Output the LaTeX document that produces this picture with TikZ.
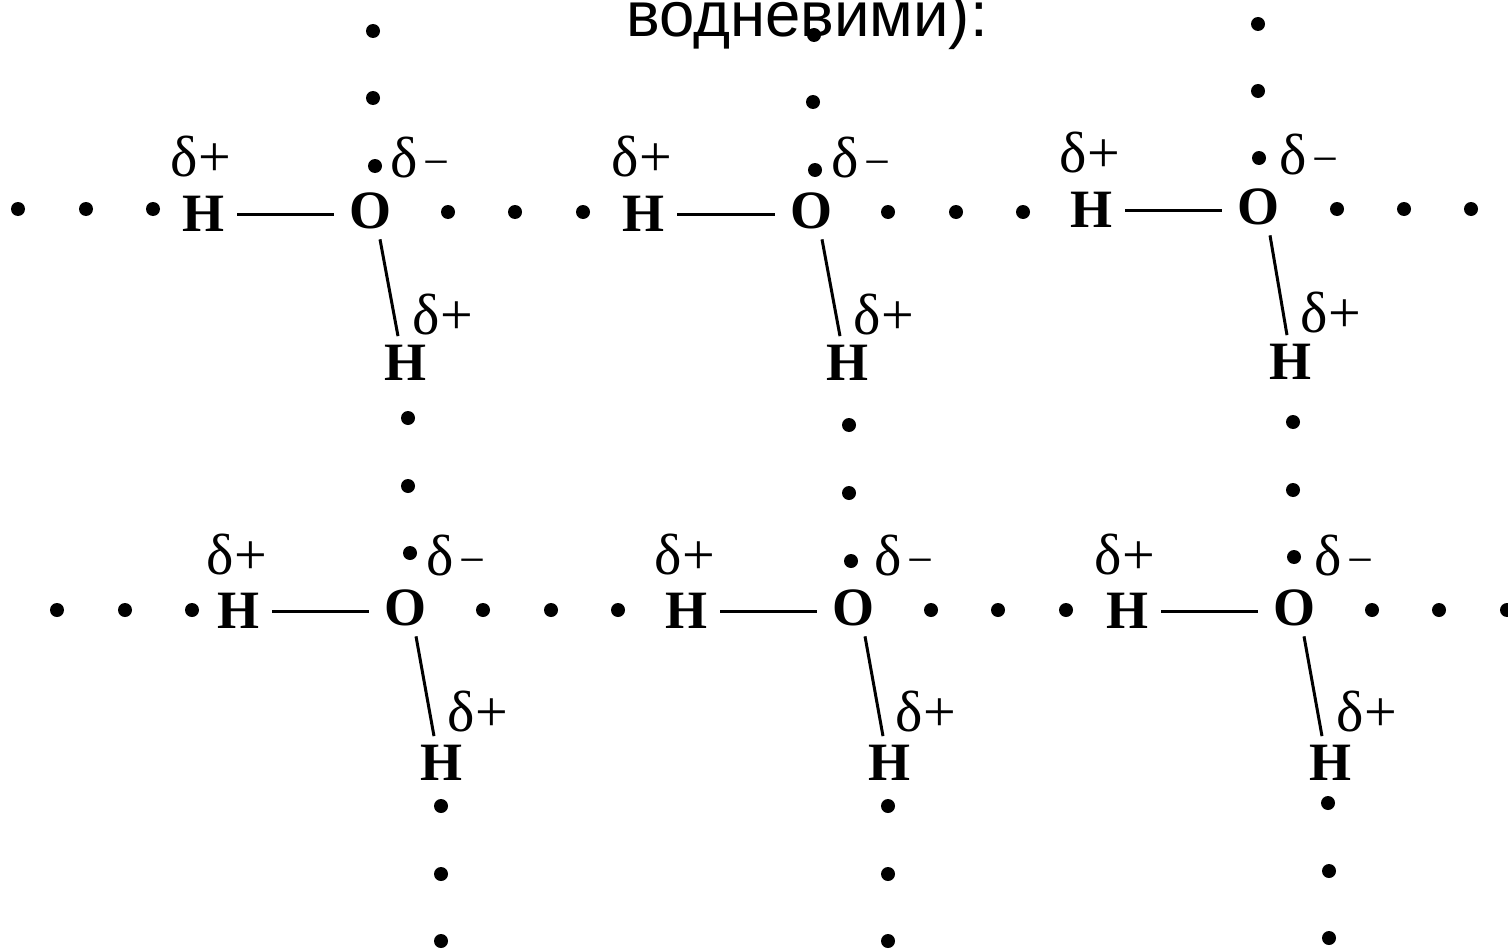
\documentclass[tikz,border=0pt]{standalone}
\usepackage{fontspec}
\setmainfont{Liberation Serif}
\newfontfamily\headfont{Liberation Sans}
\newcommand{\dplus}{δ\kern1pt+}
\newcommand{\dminus}{δ\kern5pt{\fontsize{46}{46}\selectfont −}}
\tikzset{
	atom/.style={inner sep=0pt,font=\fontsize{54}{54}\selectfont\bfseries},
	charge/.style={inner sep=0pt,font=\fontsize{58}{58}\selectfont},
	bond/.style={line width=3pt},
	hdot/.style={circle,fill=black,inner sep=0pt,minimum size=14pt},
	head/.style={inner sep=0pt,anchor=base,font=\fontsize{63.5}{63.5}\selectfont\headfont}
}
\begin{document}
\begin{tikzpicture}[line join=round,x=1pt,y=-1pt]
	\useasboundingbox (0,0) rectangle (1508,950);
	\node[head] (title) at (807,37) {водневими):};

	\node[atom] (Ha) at (203,214) {H};
	\node[atom] (Oa) at (370,211) {O};
	\node[atom] (Ka) at (405,363) {H};
	\node[charge] (pa) at (201,157) {\dplus};
	\node[charge] (ma) at (420,158) {\dminus};
	\node[charge] (qa) at (443,315) {\dplus};
	\draw[bond] ([xshift=13pt]Ha.east) -- ([xshift=-15pt]Ha.east -| Oa.west);
	\draw[bond] ([xshift=10pt,yshift=-10pt]Oa.south) -- ([xshift=-7pt,yshift=9pt]Ka.north);

	\node[atom] (Hb) at (643,214) {H};
	\node[atom] (Ob) at (811,211) {O};
	\node[atom] (Kb) at (847,363) {H};
	\node[charge] (pb) at (642,157) {\dplus};
	\node[charge] (mb) at (861,158) {\dminus};
	\node[charge] (qb) at (884,315) {\dplus};
	\draw[bond] ([xshift=13pt]Hb.east) -- ([xshift=-15pt]Hb.east -| Ob.west);
	\draw[bond] ([xshift=11pt,yshift=-10pt]Ob.south) -- ([xshift=-7pt,yshift=9pt]Kb.north);

	\node[atom] (Hc) at (1091,210) {H};
	\node[atom] (Oc) at (1258,207) {O};
	\node[atom] (Kc) at (1290,362) {H};
	\node[charge] (pc) at (1090,153) {\dplus};
	\node[charge] (mc) at (1309,155) {\dminus};
	\node[charge] (qc) at (1331,313) {\dplus};
	\draw[bond] ([xshift=13pt]Hc.east) -- ([xshift=-15pt]Hc.east -| Oc.west);
	\draw[bond] ([xshift=12pt,yshift=-10pt]Oc.south) -- ([xshift=-3pt,yshift=9pt]Kc.north);

	\node[atom] (Hd) at (238,611) {H};
	\node[atom] (Od) at (405,608) {O};
	\node[atom] (Kd) at (441,763) {H};
	\node[charge] (pd) at (237,555) {\dplus};
	\node[charge] (md) at (456,556) {\dminus};
	\node[charge] (qd) at (478,712) {\dplus};
	\draw[bond] ([xshift=13pt]Hd.east) -- ([xshift=-15pt]Hd.east -| Od.west);
	\draw[bond] ([xshift=11pt,yshift=-10pt]Od.south) -- ([xshift=-7pt,yshift=9pt]Kd.north);

	\node[atom] (He) at (686,611) {H};
	\node[atom] (Oe) at (853,608) {O};
	\node[atom] (Ke) at (889,763) {H};
	\node[charge] (pe) at (685,555) {\dplus};
	\node[charge] (me) at (904,556) {\dminus};
	\node[charge] (qe) at (926,712) {\dplus};
	\draw[bond] ([xshift=13pt]He.east) -- ([xshift=-15pt]He.east -| Oe.west);
	\draw[bond] ([xshift=12pt,yshift=-10pt]Oe.south) -- ([xshift=-6pt,yshift=9pt]Ke.north);

	\node[atom] (Hf) at (1127,611) {H};
	\node[atom] (Of) at (1294,608) {O};
	\node[atom] (Kf) at (1330,763) {H};
	\node[charge] (pf) at (1125,555) {\dplus};
	\node[charge] (mf) at (1344,556) {\dminus};
	\node[charge] (qf) at (1367,712) {\dplus};
	\draw[bond] ([xshift=13pt]Hf.east) -- ([xshift=-15pt]Hf.east -| Of.west);
	\draw[bond] ([xshift=10pt,yshift=-10pt]Of.south) -- ([xshift=-8pt,yshift=9pt]Kf.north);

	\node[hdot] (r1) at (18,209) {}; \node[hdot] (r2) at (86,209) {}; \node[hdot] (r3) at (153,209) {};
	\node[hdot] (r4) at (448,212) {}; \node[hdot] (r5) at (515,212) {}; \node[hdot] (r6) at (583,212) {};
	\node[hdot] (r7) at (888,212) {}; \node[hdot] (r8) at (956,212) {}; \node[hdot] (r9) at (1023,212) {};
	\node[hdot] (r10) at (1337,209) {}; \node[hdot] (r11) at (1404,209) {}; \node[hdot] (r12) at (1471,209) {};

	\node[hdot] (s1) at (57,610) {}; \node[hdot] (s2) at (125,610) {}; \node[hdot] (s3) at (192,610) {};
	\node[hdot] (s4) at (483,610) {}; \node[hdot] (s5) at (551,610) {}; \node[hdot] (s6) at (618,610) {};
	\node[hdot] (s7) at (931,610) {}; \node[hdot] (s8) at (998,610) {}; \node[hdot] (s9) at (1066,610) {};
	\node[hdot] (s10) at (1372,610) {}; \node[hdot] (s11) at (1439,610) {}; \node[hdot] (s12) at (1507,610) {};

	\node[hdot] (t1) at (373,31) {}; \node[hdot] (t2) at (373,98) {}; \node[hdot] (t3) at (375,166) {};
	\node[hdot] (t4) at (814,35) {}; \node[hdot] (t5) at (813,102) {}; \node[hdot] (t6) at (815,170) {};
	\node[hdot] (t7) at (1258,24) {}; \node[hdot] (t8) at (1258,91) {}; \node[hdot] (t9) at (1259,158) {};

	\node[hdot] (u1) at (408,418) {}; \node[hdot] (u2) at (408,486) {}; \node[hdot] (u3) at (410,553) {};
	\node[hdot] (u4) at (849,425) {}; \node[hdot] (u5) at (849,493) {}; \node[hdot] (u6) at (851,561) {};
	\node[hdot] (u7) at (1293,422) {}; \node[hdot] (u8) at (1293,490) {}; \node[hdot] (u9) at (1294,557) {};

	\node[hdot] (v1) at (441,806) {}; \node[hdot] (v2) at (441,874) {}; \node[hdot] (v3) at (441,941) {};
	\node[hdot] (v4) at (888,806) {}; \node[hdot] (v5) at (888,874) {}; \node[hdot] (v6) at (888,941) {};
	\node[hdot] (v7) at (1328,803) {}; \node[hdot] (v8) at (1329,871) {}; \node[hdot] (v9) at (1329,938) {};
\end{tikzpicture}
\end{document}
